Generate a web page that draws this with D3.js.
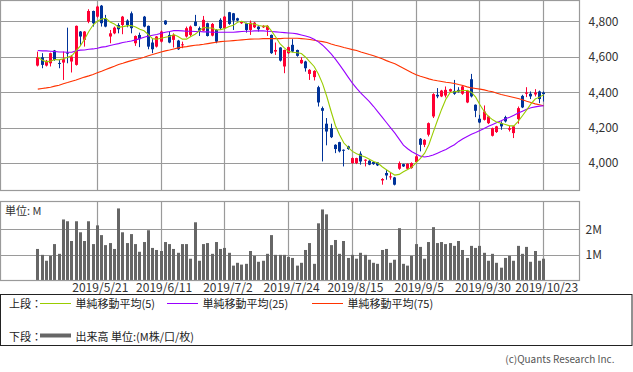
<!DOCTYPE html>
<html><head><meta charset="utf-8">
<script src="https://cdn.jsdelivr.net/npm/d3@7/dist/d3.min.js"></script>
<style>
html,body{margin:0;padding:0;background:#fff;}
svg{display:block;font-family:"Noto Sans CJK JP","Noto Sans",sans-serif;}
</style></head><body>
<svg id="chart" width="633" height="372"></svg>
<script>
const dates = ["2019/4/23","2019/4/24","2019/4/25","2019/4/26",
"2019/5/7","2019/5/8","2019/5/9","2019/5/10","2019/5/13","2019/5/14","2019/5/15","2019/5/16","2019/5/17","2019/5/20","2019/5/21","2019/5/22","2019/5/23","2019/5/24","2019/5/27","2019/5/28","2019/5/29","2019/5/30","2019/5/31",
"2019/6/3","2019/6/4","2019/6/5","2019/6/6","2019/6/7","2019/6/10","2019/6/11","2019/6/12","2019/6/13","2019/6/14","2019/6/17","2019/6/18","2019/6/19","2019/6/20","2019/6/21","2019/6/24","2019/6/25","2019/6/26","2019/6/27","2019/6/28",
"2019/7/1","2019/7/2","2019/7/3","2019/7/4","2019/7/5","2019/7/8","2019/7/9","2019/7/10","2019/7/11","2019/7/12","2019/7/16","2019/7/17","2019/7/18","2019/7/19","2019/7/22","2019/7/23","2019/7/24","2019/7/25","2019/7/26","2019/7/29","2019/7/30","2019/7/31",
"2019/8/1","2019/8/2","2019/8/5","2019/8/6","2019/8/7","2019/8/8","2019/8/9","2019/8/13","2019/8/14","2019/8/15","2019/8/16","2019/8/19","2019/8/20","2019/8/21","2019/8/22","2019/8/23","2019/8/26","2019/8/27","2019/8/28","2019/8/29","2019/8/30",
"2019/9/2","2019/9/3","2019/9/4","2019/9/5","2019/9/6","2019/9/9","2019/9/10","2019/9/11","2019/9/12","2019/9/13","2019/9/17","2019/9/18","2019/9/19","2019/9/20","2019/9/24","2019/9/25","2019/9/26","2019/9/27","2019/9/30",
"2019/10/1","2019/10/2","2019/10/3","2019/10/4","2019/10/7","2019/10/8","2019/10/9","2019/10/10","2019/10/11","2019/10/15","2019/10/16","2019/10/17","2019/10/18","2019/10/21","2019/10/23"];

const open = [4550,4597,4550,4563,4635,4565,4567,4623,4573,4554,4742,4695,4798,4858,4826,4888,4817,4714,4732,4779,
4779,4804,4845,4676,4723,4826,4774,4680,4657,4685,4804,4723,4695,4691,4667,4714,4723,4798,4761,4747,
4789,4719,4751,4808,4761,4851,4845,4817,4789,4789,4751,4766,4770,4766,4751,4723,4629,4652,4545,4620,
4667,4638,4563,4573,4503,4485,4428,4310,4222,4197,4103,4118,4075,4094,4000,4000,4053,4013,4013,4006,
4004,3902,3944,3921,3919,3968,3994,3968,3972,4006,4137,4103,4160,4263,4385,4376,4381,4404,4407,4413,
4391,4342,4473,4329,4250,4244,4225,4154,4175,4225,4259,4188,4169,4248,4379,4391,4391,4387,4404,4398];
const high = [4629,4620,4582,4623,4638,4582,4629,4764,4610,4776,4745,4745,4868,4860,4888,4892,4836,4751,4770,4789,
4830,4811,4855,4720,4736,4830,4776,4699,4717,4747,4806,4742,4732,4695,4685,4770,4776,4836,4770,4830,
4792,4790,4755,4817,4830,4853,4847,4820,4802,4792,4804,4796,4772,4778,4779,4725,4680,4654,4640,4657,
4699,4640,4597,4577,4530,4524,4436,4319,4254,4222,4106,4120,4077,4098,4032,4030,4066,4021,4016,4009,
4006,3915,3962,3944,3922,4009,3996,3998,4004,4047,4141,4135,4229,4394,4423,4413,4432,4420,4469,4428,
4440,4413,4503,4331,4272,4325,4267,4200,4210,4235,4267,4210,4210,4319,4385,4428,4404,4417,4409,4404];
const low = [4545,4535,4545,4545,4577,4535,4469,4563,4511,4550,4667,4657,4789,4770,4820,4770,4766,4676,4727,4732,
4727,4766,4732,4661,4654,4766,4642,4620,4652,4680,4779,4676,4652,4638,4648,4708,4714,4772,4717,4745,
4714,4715,4676,4751,4755,4780,4751,4800,4785,4736,4723,4762,4742,4762,4717,4616,4610,4573,4507,4616,
4625,4600,4560,4516,4469,4466,4319,4009,4100,4141,4056,4060,3981,4075,3996,3994,3991,3981,3988,3990,
3983,3878,3906,3906,3874,3962,3978,3965,3968,4000,4066,4090,4150,4254,4366,4372,4370,4400,4385,4398,
4385,4338,4370,4259,4225,4240,4220,4150,4170,4188,4229,4178,4141,4222,4310,4372,4361,4376,4338,4347];
const close = [4597,4554,4577,4620,4582,4561,4586,4620,4601,4774,4714,4742,4858,4789,4883,4789,4770,4732,4764,4755,
4826,4779,4761,4717,4699,4770,4657,4642,4714,4742,4783,4680,4723,4642,4670,4761,4770,4774,4747,4808,
4717,4785,4685,4761,4826,4785,4804,4804,4798,4751,4792,4792,4755,4774,4774,4620,4638,4578,4638,4654,
4629,4605,4582,4535,4526,4520,4342,4295,4178,4146,4079,4066,4071,4079,4028,4028,4009,4019,3991,3994,
3987,3910,3930,3925,3878,4000,3981,3996,4000,4038,4103,4131,4225,4389,4376,4409,4413,4417,4391,4404,
4432,4409,4376,4295,4229,4291,4263,4197,4207,4207,4235,4197,4207,4310,4314,4398,4376,4398,4361,4389];

// volume in millions
const volume = [1.23,1.00,0.77,0.96,1.42,1.04,2.38,2.31,1.54,2.31,1.88,1.54,2.31,1.42,2.15,1.77,1.38,1.46,1.23,2.81,
1.88,1.46,1.81,1.42,1.12,1.50,1.96,1.27,1.19,1.15,1.50,1.42,1.23,1.08,1.42,1.42,0.85,2.27,0.77,1.42,
1.46,1.04,1.50,1.23,1.27,1.08,0.58,0.69,0.62,0.65,1.15,0.96,0.73,0.77,1.04,1.77,1.00,1.00,1.00,0.92,
0.88,0.58,0.69,1.19,1.46,0.65,2.23,2.77,2.58,1.38,1.58,1.04,1.54,0.88,1.00,0.85,1.08,1.00,0.81,0.69,
0.65,1.19,1.23,0.69,0.81,2.04,0.65,0.58,0.96,1.42,1.31,0.85,1.50,2.08,1.46,1.50,1.42,1.46,1.35,1.54,
1.19,0.88,1.35,1.27,1.35,1.08,0.77,1.04,0.69,0.50,0.88,0.96,0.77,1.35,1.04,1.31,0.73,1.15,0.77,0.85];

const ma5 = [4597,4582,4571,4575,4584,4582,4588,4597,4605,4633,4661,4699,4742,4779,4800,4813,4817,4796,4785,4766,
4770,4774,4776,4768,4755,4746,4725,4702,4699,4704,4710,4714,4725,4714,4699,4699,4714,4727,4746,4766,
4762,4762,4751,4753,4759,4770,4777,4794,4800,4789,4787,4783,4776,4772,4774,4744,4710,4672,4650,4629,
4625,4622,4618,4597,4571,4545,4503,4447,4374,4291,4212,4158,4113,4088,4066,4053,4043,4034,4022,4009,
4000,3979,3962,3947,3932,3936,3951,3964,3977,4002,4026,4056,4105,4173,4240,4304,4361,4398,4402,4406,
4409,4409,4400,4372,4329,4291,4263,4244,4231,4225,4218,4210,4210,4235,4267,4300,4334,4361,4372,4385];
const ma25 = [4635,4633,4633,4631,4629,4627,4627,4625,4625,4633,4637,4638,4642,4644,4648,4654,4657,4663,4669,4674,
4680,4684,4689,4695,4702,4710,4717,4721,4725,4732,4738,4742,4747,4747,4746,4744,4744,4742,4742,4740,
4740,4738,4738,4738,4738,4738,4738,4740,4742,4744,4744,4746,4746,4746,4744,4742,4740,4738,4736,4734,
4732,4729,4723,4717,4710,4699,4684,4665,4642,4616,4586,4554,4520,4485,4451,4421,4394,4370,4347,4319,
4289,4259,4229,4199,4169,4135,4101,4081,4064,4051,4039,4034,4038,4045,4056,4066,4077,4090,4103,4122,
4137,4150,4163,4173,4184,4195,4207,4218,4229,4239,4250,4259,4270,4282,4293,4304,4312,4317,4321,4323];
const ma75 = [4417,4421,4424,4428,4434,4439,4447,4454,4462,4469,4477,4485,4492,4500,4509,4518,4528,4537,4546,4556,
4563,4571,4578,4584,4590,4597,4605,4612,4620,4627,4633,4638,4644,4650,4654,4657,4661,4665,4667,4670,
4674,4678,4682,4685,4687,4689,4691,4693,4695,4697,4699,4700,4700,4702,4702,4702,4702,4702,4704,4704,
4704,4704,4702,4700,4697,4693,4689,4685,4680,4672,4665,4659,4652,4646,4640,4635,4627,4620,4612,4605,
4597,4588,4578,4569,4560,4548,4535,4522,4509,4498,4490,4483,4475,4469,4464,4460,4456,4453,4449,4443,
4438,4430,4424,4421,4417,4413,4407,4402,4394,4387,4381,4376,4370,4364,4357,4349,4342,4334,4329,4323];

const tickDates = ["2019/5/21","2019/6/11","2019/7/2","2019/7/24","2019/8/15","2019/9/5","2019/9/30","2019/10/23"];
const priceTicks = [4000,4200,4400,4600,4800];
const volumeTicks = [1,2];

const svg = d3.select("#chart");
const L = 0.5, R = 579.5, PT = 0.5, PB = 190.5, VT = 201.5, VB = 280.5;
const GRID = "#9a9a9a", UP = "#ff0033", DOWN = "#003399";

const x = d3.scalePoint().domain(dates).range([37.3, 543.2]);
const y = d3.scaleLinear().domain([3848, 4920]).range([190, 0]);
const yv = d3.scaleLinear().domain([0, 3.1]).range([280.5, 201]);
const px = d => Math.round(x(d));

// ---------- price panel ----------
const gp = svg.append("g");
gp.selectAll("line.hg").data(priceTicks).join("line")
  .attr("x1", L).attr("x2", R).attr("y1", d => Math.round(y(d)) + 0.5).attr("y2", d => Math.round(y(d)) + 0.5)
  .attr("stroke", GRID).attr("stroke-width", 1.2);
gp.selectAll("line.vg").data(tickDates).join("line")
  .attr("x1", d => px(d) + 0.5).attr("x2", d => px(d) + 0.5).attr("y1", PT).attr("y2", PB)
  .attr("stroke", GRID).attr("stroke-width", 1.2);
gp.append("rect").attr("x", L).attr("y", PT).attr("width", R - L).attr("height", PB - PT)
  .attr("fill", "none").attr("stroke", GRID).attr("stroke-width", 1.2);

const idx = d3.range(dates.length);
const cg = gp.append("g");
cg.selectAll("line.wick").data(idx).join("line")
  .attr("x1", i => px(dates[i]) + 0.5).attr("x2", i => px(dates[i]) + 0.5)
  .attr("y1", i => y(high[i])).attr("y2", i => y(low[i]))
  .attr("stroke", i => close[i] >= open[i] ? UP : DOWN).attr("stroke-width", 1);
cg.selectAll("rect.body").data(idx).join("rect")
  .attr("x", i => px(dates[i]) - 1).attr("width", 3)
  .attr("y", i => y(Math.max(open[i], close[i])))
  .attr("height", i => Math.max(1, Math.abs(y(open[i]) - y(close[i]))))
  .attr("fill", i => close[i] >= open[i] ? UP : DOWN);

const line = d3.line().x((d, i) => x(dates[i]) + 0.5).y(d => y(d));
[[ma75, "#ff3300"], [ma25, "#9900ff"], [ma5, "#99cc00"]].forEach(([s, c]) => {
  gp.append("path").datum(s).attr("d", line).attr("fill", "none").attr("stroke", c).attr("stroke-width", 1.1);
});

const ay = gp.append("g").attr("transform", `translate(${R},0)`)
  .call(d3.axisRight(y).tickValues(priceTicks).tickSize(0).tickPadding(9).tickFormat(d3.format(",")));
ay.select(".domain").remove();
ay.selectAll("text").attr("font-size", 12).attr("fill", "#333").attr("font-family", "Noto Sans CJK JP");

// ---------- volume panel ----------
const gv = svg.append("g");
gv.selectAll("line.hg").data(volumeTicks).join("line")
  .attr("x1", L).attr("x2", R).attr("y1", d => Math.round(yv(d)) + 0.5).attr("y2", d => Math.round(yv(d)) + 0.5)
  .attr("stroke", GRID).attr("stroke-width", 1.2);
gv.selectAll("line.vg").data(tickDates).join("line")
  .attr("x1", d => px(d) + 0.5).attr("x2", d => px(d) + 0.5).attr("y1", VT).attr("y2", VB)
  .attr("stroke", GRID).attr("stroke-width", 1.2);
gv.selectAll("rect.vol").data(idx).join("rect")
  .attr("x", i => px(dates[i]) - 1).attr("width", 3)
  .attr("y", i => yv(volume[i])).attr("height", i => yv(0) - yv(volume[i]))
  .attr("fill", "#666666");
gv.append("rect").attr("x", L).attr("y", VT).attr("width", R - L).attr("height", VB - VT)
  .attr("fill", "none").attr("stroke", GRID).attr("stroke-width", 1.2);

const av = gv.append("g").attr("transform", `translate(${R},0)`)
  .call(d3.axisRight(yv).tickValues(volumeTicks).tickSize(0).tickPadding(6).tickFormat(d => d + "M"));
av.select(".domain").remove();
av.selectAll("text").attr("font-size", 12).attr("fill", "#333").attr("font-family", "Noto Sans CJK JP");

gv.append("text").attr("x", 5).attr("y", 209.5).attr("dominant-baseline", "central")
  .attr("font-size", 11).attr("fill", "#333").text("単位: M");

const ax = svg.append("g").attr("transform", `translate(3,${VB})`)
  .call(d3.axisBottom(x).tickValues(tickDates).tickSize(0).tickPadding(3));
ax.select(".domain").remove();
ax.selectAll("text").attr("font-size", 12).attr("fill", "#333").attr("font-family", "Noto Sans CJK JP");

// ---------- legend ----------
const lg = svg.append("g");
lg.append("rect").attr("x", 0.5).attr("y", 294.5).attr("width", 631.5).attr("height", 51)
  .attr("fill", "none").attr("stroke", "#222").attr("stroke-width", 1);
const row1 = 303, row2 = 335.5;
lg.append("text").attr("x", 9).attr("y", row1).attr("dominant-baseline", "central").attr("font-size", 11).attr("fill", "#222").text("上段：");
[[40, "#99cc00", "単純移動平均(5)"], [167, "#9900ff", "単純移動平均(25)"], [312, "#ff3300", "単純移動平均(75)"]].forEach(([lx, c, t]) => {
  lg.append("line").attr("x1", lx).attr("x2", lx + 31).attr("y1", row1 + 0.5).attr("y2", row1 + 0.5).attr("stroke", c).attr("stroke-width", 1);
  lg.append("text").attr("x", lx + 35.5).attr("y", row1).attr("dominant-baseline", "central").attr("font-size", 11).attr("fill", "#222").text(t);
});
lg.append("text").attr("x", 9).attr("y", row2).attr("dominant-baseline", "central").attr("font-size", 11).attr("fill", "#222").text("下段：");
lg.append("line").attr("x1", 40).attr("x2", 71).attr("y1", row2).attr("y2", row2).attr("stroke", "#666").attr("stroke-width", 4);
lg.append("text").attr("x", 75.5).attr("y", row2).attr("dominant-baseline", "central").attr("font-size", 11).attr("fill", "#222").text("出来高 単位:(M株/口/枚)");

svg.append("text").attr("x", 614.5).attr("y", 358).attr("text-anchor", "end").attr("dominant-baseline", "central")
  .attr("font-size", 10).attr("fill", "#555").text("(c)Quants Research Inc.");
</script>
</body></html>
